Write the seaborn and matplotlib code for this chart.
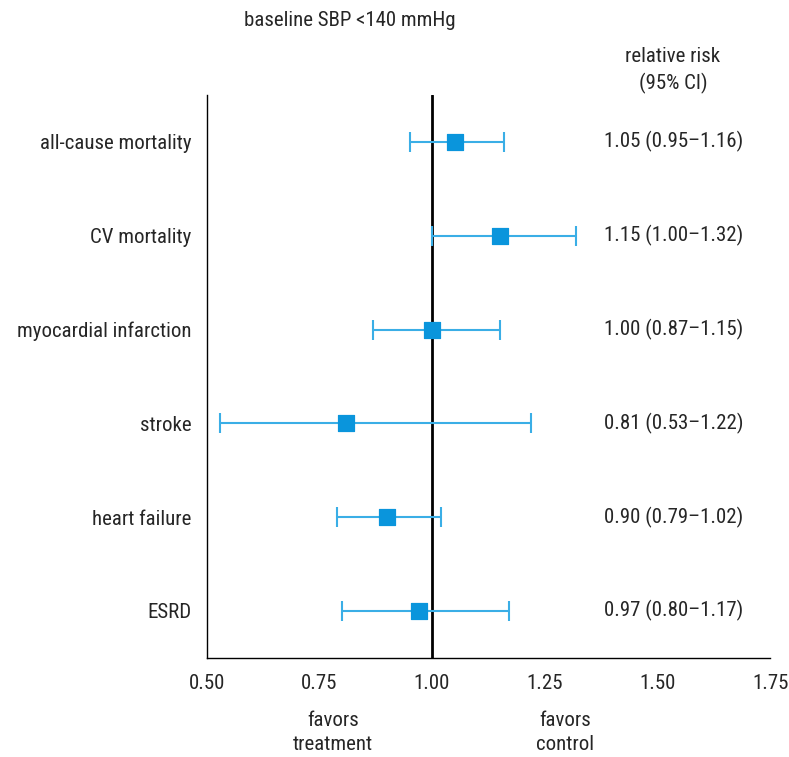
import matplotlib
matplotlib.use("Agg")
import matplotlib.pyplot as plt
import seaborn as sns
import pandas as pd
from matplotlib import font_manager

outcomes = ["all-cause mortality", "CV mortality", "myocardial infarction",
            "stroke", "heart failure", "ESRD"]
rr = [1.05, 1.15, 1.00, 0.81, 0.90, 0.97]
lo = [0.95, 1.00, 0.87, 0.53, 0.79, 0.80]
hi = [1.16, 1.32, 1.15, 1.22, 1.02, 1.17]
xticks = [0.50, 0.75, 1.00, 1.25, 1.50, 1.75]
xticklabels = ["0.50", "0.75", "1.00", "1.25", "1.50", "1.75"]

sns.set_style("white")
avail = {f.name for f in font_manager.fontManager.ttflist}
fam = [f for f in ["Roboto Condensed", "Liberation Sans Narrow", "Roboto", "DejaVu Sans"] if f in avail]
plt.rcParams["font.family"] = fam
FS = 15

df = pd.DataFrame({"outcome": outcomes, "rr": rr, "lo": lo, "hi": hi})
df["y"] = range(len(df))

fig = plt.figure(figsize=(7.89, 7.57), dpi=100)
ax = fig.add_axes([0.262, 0.131, 0.714, 0.7435])

col_line = "#3aaee6"
col_mark = "#0a95dc"
ax.axvline(1.0, color="black", lw=2, zorder=1)
ax.errorbar(df["rr"], df["y"], xerr=[df["rr"] - df["lo"], df["hi"] - df["rr"]],
            fmt="none", ecolor=col_line, elinewidth=1.5, capsize=7, capthick=1.5, zorder=2)
sns.scatterplot(data=df, x="rr", y="y", marker="s", s=120, color=col_mark,
                edgecolor=col_mark, ax=ax, zorder=3, legend=False)

ax.set_xlim(0.5, 1.75)
ax.set_ylim(len(df) - 0.5, -0.5)
ax.set_xticks(xticks)
ax.set_xticklabels(xticklabels, fontsize=FS)
ax.set_yticks(range(len(df)))
ax.set_yticklabels(outcomes, fontsize=FS)
ax.set_xlabel("")
ax.set_ylabel("")
for s in ["top", "right"]:
    ax.spines[s].set_visible(False)
for s in ["left", "bottom"]:
    ax.spines[s].set_color("black")
    ax.spines[s].set_linewidth(1.0)
ax.tick_params(axis="x", direction="in", length=6, width=1, color="black", pad=12)
ax.tick_params(axis="y", direction="out", length=6, width=1, color="black", pad=5)

for i, (r, l, h) in enumerate(zip(rr, lo, hi)):
    ax.annotate(f"{r:.2f} ({l:.2f}\u2013{h:.2f})", xy=(674 / 789, i),
                xycoords=("figure fraction", "data"),
                ha="center", va="center", fontsize=FS)

fig.text(350 / 789, 1 - 20 / 757, "baseline SBP <140 mmHg", ha="center", va="center", fontsize=FS)
fig.text(673 / 789, 1 - 57 / 757, "relative risk", ha="center", va="center", fontsize=FS)
fig.text(673 / 789, 1 - 83 / 757, "(95% CI)", ha="center", va="center", fontsize=FS)
fig.text(333 / 789, 1 - 721 / 757, "favors", ha="center", va="center", fontsize=FS)
fig.text(333 / 789, 1 - 745 / 757, "treatment", ha="center", va="center", fontsize=FS)
fig.text(565 / 789, 1 - 721 / 757, "favors", ha="center", va="center", fontsize=FS)
fig.text(565 / 789, 1 - 745 / 757, "control", ha="center", va="center", fontsize=FS)

fig.savefig("out.png", dpi=100)
